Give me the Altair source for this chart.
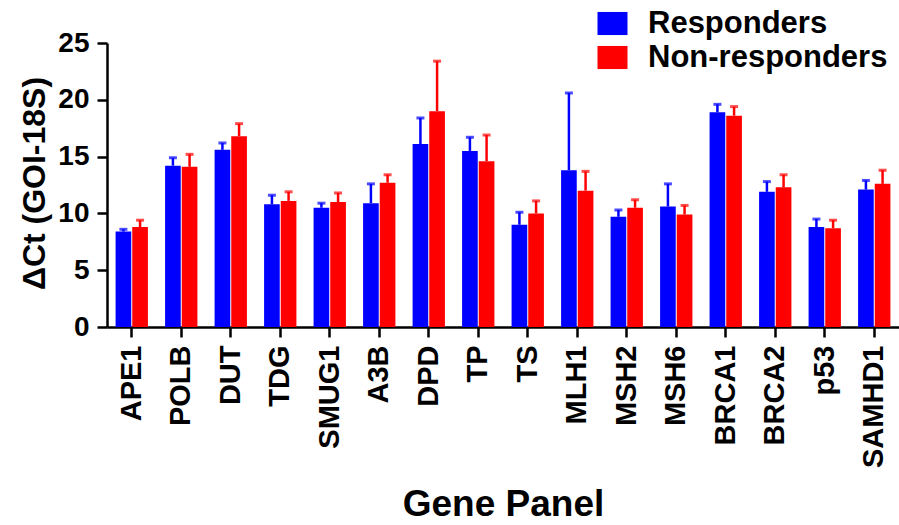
import altair as alt
import pandas as pd

genes = ["APE1", "POLB", "DUT", "TDG", "SMUG1", "A3B", "DPD", "TP", "TS",
         "MLH1", "MSH2", "MSH6", "BRCA1", "BRCA2", "p53", "SAMHD1"]
groups = ["Responders", "Non-responders"]
colors = ["#0000FF", "#FF0000"]

resp_mean = [8.4, 14.2, 15.6, 10.8, 10.5, 10.9, 16.1, 15.5, 9.0, 13.8, 9.7, 10.6, 18.9, 11.9, 8.8, 12.1]
resp_err = [0.2, 0.7, 0.6, 0.8, 0.4, 1.7, 2.3, 1.2, 1.1, 6.8, 0.6, 2.0, 0.7, 0.9, 0.7, 0.8]
non_mean = [8.8, 14.1, 16.8, 11.1, 11.0, 12.7, 19.0, 14.6, 10.0, 12.0, 10.5, 9.9, 18.6, 12.3, 8.7, 12.6]
non_err = [0.6, 1.1, 1.1, 0.8, 0.8, 0.7, 4.4, 2.3, 1.1, 1.7, 0.7, 0.8, 0.8, 1.1, 0.7, 1.2]
y_ticks = [0, 5, 10, 15, 20, 25]

rows = []
for grp, means, errs in [(groups[0], resp_mean, resp_err), (groups[1], non_mean, non_err)]:
    for g, m, e in zip(genes, means, errs):
        rows.append({"gene": g, "group": grp, "mean": m, "upper": round(m + e, 2)})
df = pd.DataFrame(rows)

FONT = "Liberation Sans"

x = alt.X(
    "gene:N", sort=genes,
    scale=alt.Scale(paddingInner=0.347, paddingOuter=0.1735),
    axis=alt.Axis(
        title="Gene Panel", labelAngle=-90, labelAlign="right", labelBaseline="middle",
        labelFont=FONT, labelFontSize=29, labelFontWeight="bold", labelColor="black",
        labelPadding=8, tickSize=10, tickWidth=2.5, tickColor="black",
        domainColor="black", domainWidth=2.5, grid=False,
        titleFont=FONT, titleFontSize=37, titleFontWeight="bold", titleColor="black",
        titleY=188, titleBaseline="alphabetic",
    ),
)
xo = alt.XOffset("group:N", sort=groups, scale=alt.Scale(paddingInner=0.06, paddingOuter=0))
color = alt.Color(
    "group:N", sort=groups,
    scale=alt.Scale(domain=groups, range=colors),
    legend=alt.Legend(
        title=None, orient="none", legendX=490, legendY=-35,
        symbolType="M-1,-0.77H1V0.77H-1Z", symbolSize=900, symbolStrokeWidth=0,
        symbolOpacity=1, labelFont=FONT, labelFontSize=31, labelFontWeight="bold",
        labelColor="black", labelOffset=20, rowPadding=2, padding=0, labelLimit=400,
    ),
)
y_axis = alt.Axis(
    values=y_ticks, title="ΔCt (GOI-18S)", grid=False,
    labelFont=FONT, labelFontSize=28, labelFontWeight="bold", labelColor="black",
    labelPadding=8, tickSize=10, tickWidth=2.5, tickColor="black",
    domainColor="black", domainWidth=2.5,
    titleFont=FONT, titleFontSize=32, titleFontWeight="bold", titleColor="black",
    titleX=-63, titleY=140, titleAngle=-90, titleAlign="center", titleBaseline="alphabetic",
)
y_scale = alt.Scale(domain=[0, 25], nice=False, zero=True)

base = alt.Chart(df)
bars = base.mark_bar().encode(
    x=x, xOffset=xo,
    y=alt.Y("mean:Q", scale=y_scale, axis=y_axis),
    color=color,
)
rules = base.mark_rule(strokeWidth=2.5).encode(
    x=x, xOffset=xo,
    y=alt.Y("mean:Q", scale=y_scale, axis=y_axis),
    y2="upper:Q",
    color=alt.Color("group:N", sort=groups, scale=alt.Scale(domain=groups, range=colors), legend=None),
)
caps = base.mark_tick(size=8, thickness=3).encode(
    x=x, xOffset=xo,
    y=alt.Y("upper:Q", scale=y_scale, axis=y_axis),
    color=alt.Color("group:N", sort=groups, scale=alt.Scale(domain=groups, range=colors), legend=None),
)

chart = alt.layer(bars, rules, caps).properties(
    width=792, height=284,
    autosize="none",
    padding={"left": 107, "top": 43, "right": 0, "bottom": 198},
    background="white",
).configure_view(stroke=None)

chart.save("out.html", embed_options={"renderer": "svg", "actions": False})
